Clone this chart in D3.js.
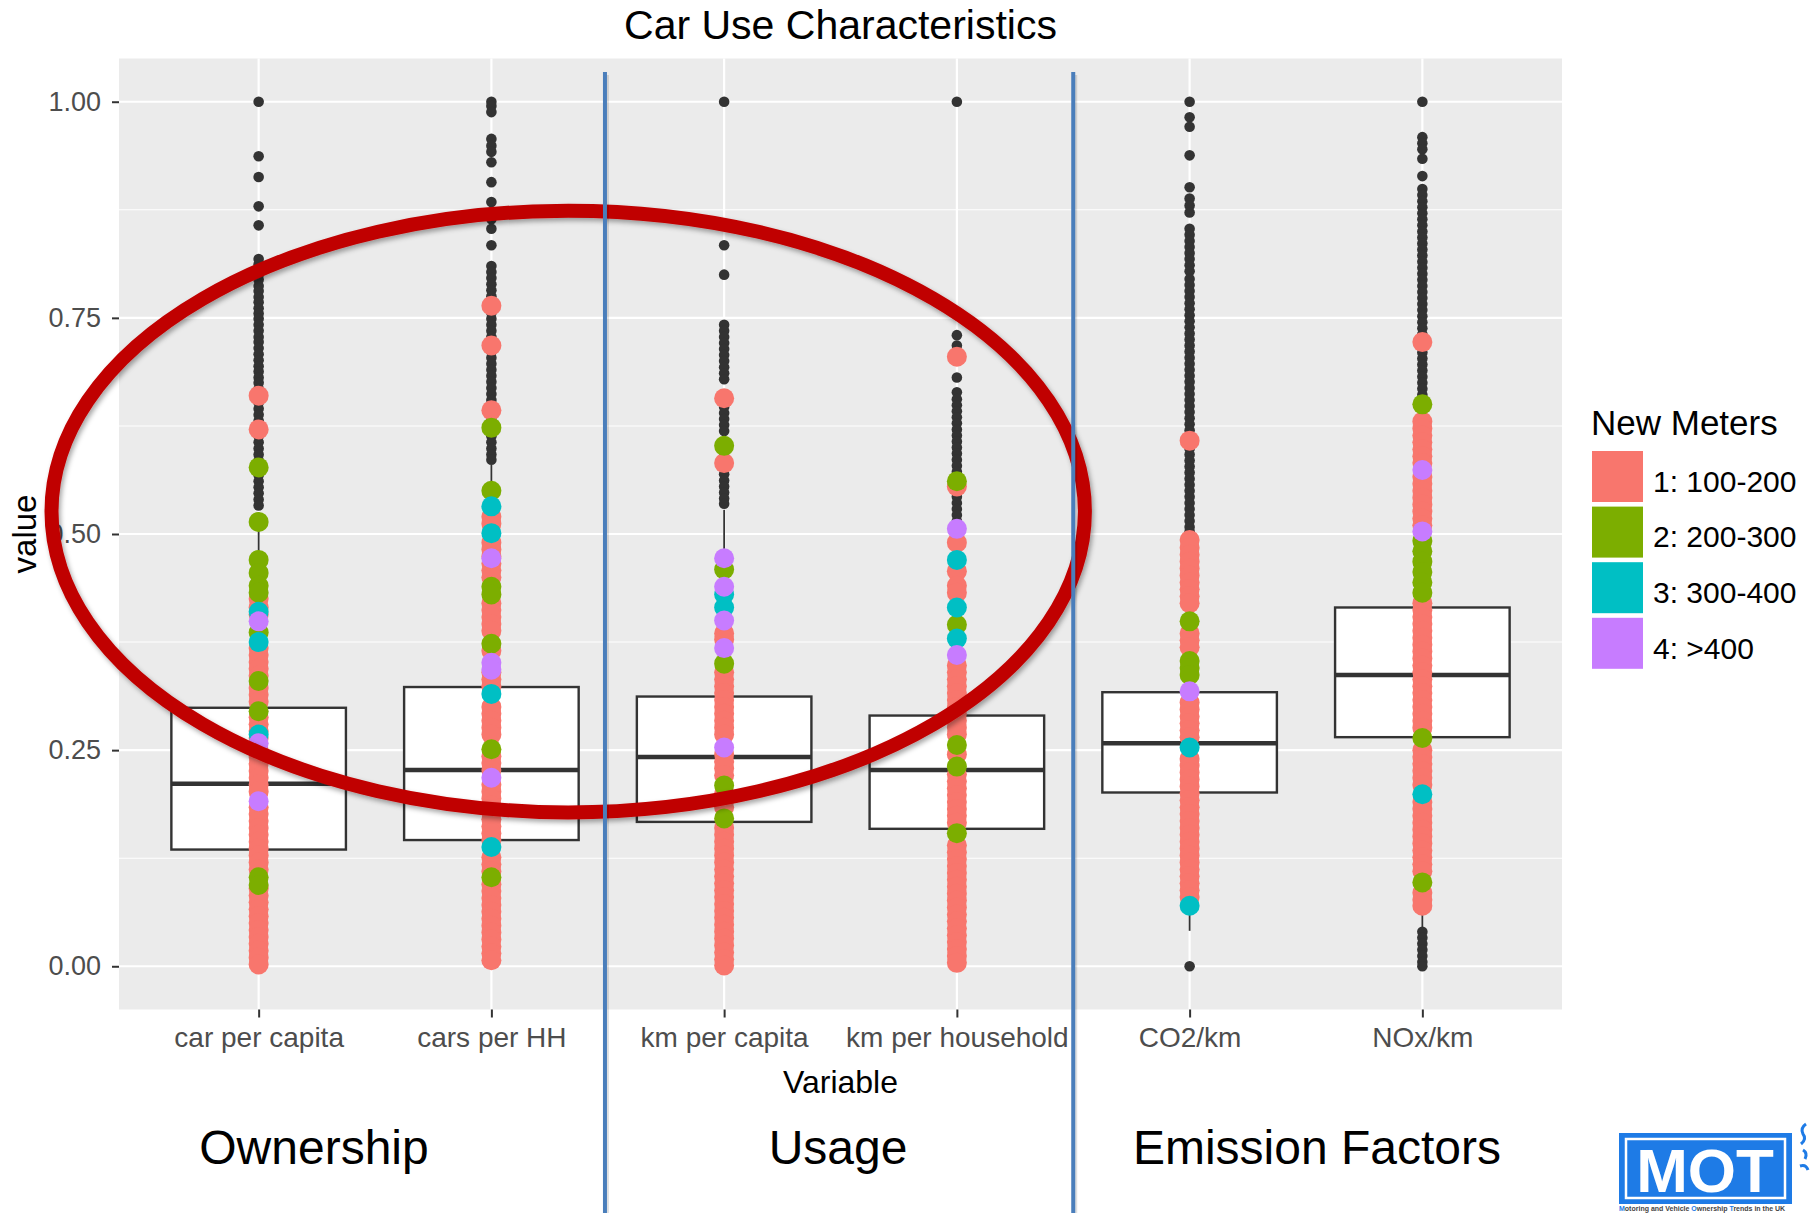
<!DOCTYPE html>
<html>
<head>
<meta charset="utf-8">
<script src="https://cdn.jsdelivr.net/npm/d3@7"></script>
<style>
  html, body { margin: 0; padding: 0; background: #fff; }
  svg { display: block; font-family: "Liberation Sans", Arial, sans-serif; }
</style>
</head>
<body>
<svg id="chart" width="1812" height="1213"></svg>
<script>
// ---- data -------------------------------------------------------------
const categories = ["car per capita", "cars per HH", "km per capita", "km per household", "CO2/km", "NOx/km"];
const yTicks = [0, 0.25, 0.5, 0.75, 1];
const yMinor = [0.125, 0.375, 0.625, 0.875];

// box statistics per variable
const q1 = [0.135, 0.146, 0.167, 0.159, 0.201, 0.265];
const medians = [0.211, 0.227, 0.242, 0.227, 0.258, 0.337];
const q3 = [0.299, 0.323, 0.312, 0.290, 0.317, 0.415];
const whiskerLow = [0.000, 0.005, 0.000, 0.003, 0.041, 0.045];
const whiskerHigh = [0.525, 0.580, 0.528, 0.490, 0.492, 0.638];

// boxplot outliers per variable
const outliers = [
  [1.000, 0.937, 0.913, 0.879, 0.857, 0.818, 0.812, 0.806, 0.800, 0.794, 0.787, 0.781, 0.774, 0.768, 0.761,
   0.755, 0.749, 0.742, 0.735, 0.728, 0.722, 0.715, 0.708, 0.701, 0.694, 0.688, 0.681, 0.675, 0.668, 0.652,
   0.645, 0.638, 0.631, 0.613, 0.606, 0.599, 0.592, 0.585, 0.575, 0.568, 0.561, 0.554, 0.547, 0.540, 0.533],
  [1.000, 0.995, 0.988, 0.957, 0.949, 0.942, 0.930, 0.907, 0.884, 0.872, 0.864, 0.853, 0.834, 0.810, 0.803,
   0.796, 0.789, 0.782, 0.775, 0.768, 0.756, 0.749, 0.742, 0.735, 0.728, 0.711, 0.704, 0.697, 0.690, 0.683,
   0.676, 0.669, 0.662, 0.655, 0.648, 0.641, 0.634, 0.627, 0.620, 0.613, 0.606, 0.599, 0.592, 0.586],
  [1.000, 0.834, 0.800, 0.742, 0.735, 0.728, 0.721, 0.714, 0.707, 0.700, 0.693, 0.686, 0.679, 0.647, 0.640,
   0.633, 0.626, 0.619, 0.590, 0.583, 0.576, 0.569, 0.562, 0.555, 0.548, 0.541, 0.535],
  [1.000, 0.730, 0.718, 0.681, 0.664, 0.656, 0.649, 0.642, 0.635, 0.628, 0.621, 0.614, 0.607, 0.600, 0.593,
   0.586, 0.579, 0.572, 0.565, 0.550, 0.543, 0.536, 0.529, 0.522, 0.515],
  [1.000, 0.982, 0.971, 0.938, 0.901, 0.888, 0.880, 0.872, 0.853, 0.846, 0.839, 0.832, 0.825, 0.818, 0.811,
   0.804, 0.795, 0.788, 0.781, 0.774, 0.767, 0.760, 0.753, 0.746, 0.739, 0.732, 0.725, 0.718, 0.711, 0.704,
   0.697, 0.690, 0.683, 0.676, 0.669, 0.662, 0.655, 0.648, 0.641, 0.634, 0.627, 0.620, 0.613, 0.606, 0.599,
   0.592, 0.585, 0.578, 0.571, 0.564, 0.557, 0.550, 0.543, 0.536, 0.529, 0.522, 0.515, 0.508, 0.503, 0.000],
  [1.000, 0.959, 0.952, 0.945, 0.934, 0.914, 0.899, 0.892, 0.885, 0.878, 0.871, 0.864, 0.857, 0.850, 0.843,
   0.836, 0.829, 0.822, 0.815, 0.808, 0.801, 0.794, 0.787, 0.780, 0.773, 0.766, 0.759, 0.752, 0.745, 0.738,
   0.731, 0.724, 0.717, 0.710, 0.703, 0.696, 0.689, 0.682, 0.675, 0.668, 0.661, 0.656,
   0.040, 0.033, 0.026, 0.019, 0.012, 0.005, 0.000]
];

// observations coloured by number of new meters (one list per variable)
const meter1 = [
  [0.660, 0.621, 0.425, 0.415, 0.407, 0.368, 0.360, 0.352, 0.344, 0.336, 0.322, 0.314, 0.306, 0.288, 0.280,
   0.272, 0.264, 0.250, 0.242, 0.234, 0.226, 0.218, 0.210, 0.202, 0.184, 0.176, 0.168, 0.160, 0.152, 0.144,
   0.136, 0.128, 0.120, 0.112, 0.090, 0.082, 0.074, 0.066, 0.058, 0.050, 0.042, 0.034, 0.026, 0.018, 0.010, 0.002],
  [0.764, 0.718, 0.643, 0.520, 0.512, 0.490, 0.482, 0.474, 0.466, 0.458, 0.450, 0.420, 0.412, 0.404, 0.396,
   0.388, 0.365, 0.340, 0.332, 0.324, 0.300, 0.292, 0.284, 0.276, 0.268, 0.243, 0.235, 0.227, 0.210, 0.202,
   0.194, 0.186, 0.178, 0.170, 0.162, 0.154, 0.146, 0.126, 0.118, 0.110, 0.095, 0.087, 0.079, 0.071, 0.063,
   0.055, 0.047, 0.039, 0.031, 0.023, 0.015, 0.007],
  [0.657, 0.582, 0.385, 0.378, 0.340, 0.332, 0.324, 0.316, 0.308, 0.300, 0.292, 0.284, 0.276, 0.268, 0.245,
   0.237, 0.229, 0.221, 0.200, 0.192, 0.184, 0.160, 0.152, 0.144, 0.136, 0.128, 0.120, 0.112, 0.104, 0.096,
   0.088, 0.080, 0.072, 0.064, 0.056, 0.048, 0.040, 0.032, 0.024, 0.016, 0.008, 0.001],
  [0.705, 0.555, 0.490, 0.457, 0.440, 0.432, 0.348, 0.340, 0.332, 0.324, 0.316, 0.308, 0.300, 0.292, 0.284,
   0.276, 0.268, 0.245, 0.222, 0.214, 0.206, 0.198, 0.190, 0.182, 0.174, 0.166, 0.140, 0.132, 0.124, 0.116,
   0.108, 0.100, 0.092, 0.084, 0.076, 0.068, 0.060, 0.052, 0.044, 0.036, 0.028, 0.020, 0.012, 0.004],
  [0.608, 0.493, 0.484, 0.476, 0.468, 0.460, 0.452, 0.444, 0.436, 0.428, 0.420, 0.385, 0.377, 0.369, 0.305,
   0.297, 0.289, 0.281, 0.273, 0.265, 0.240, 0.232, 0.224, 0.216, 0.208, 0.200, 0.192, 0.184, 0.176, 0.168,
   0.160, 0.152, 0.144, 0.136, 0.128, 0.120, 0.112, 0.104, 0.096, 0.088, 0.080],
  [0.722, 0.630, 0.622, 0.614, 0.606, 0.598, 0.590, 0.582, 0.566, 0.558, 0.550, 0.542, 0.534, 0.526, 0.518,
   0.510, 0.420, 0.412, 0.404, 0.396, 0.388, 0.380, 0.372, 0.364, 0.356, 0.348, 0.340, 0.332, 0.324, 0.316,
   0.308, 0.300, 0.292, 0.284, 0.276, 0.250, 0.242, 0.234, 0.226, 0.218, 0.210, 0.190, 0.182, 0.174, 0.166,
   0.158, 0.150, 0.142, 0.134, 0.126, 0.118, 0.110, 0.085, 0.077, 0.070]
];
const meter2 = [
  [0.577, 0.514, 0.470, 0.455, 0.440, 0.432, 0.386, 0.330, 0.295, 0.103, 0.094],
  [0.623, 0.550, 0.439, 0.430, 0.373, 0.251, 0.103],
  [0.602, 0.459, 0.350, 0.209, 0.171],
  [0.561, 0.395, 0.256, 0.231, 0.154],
  [0.399, 0.353, 0.345, 0.337],
  [0.650, 0.492, 0.480, 0.468, 0.456, 0.444, 0.432, 0.264, 0.097]
];
const meter3 = [
  [0.410, 0.375, 0.268],
  [0.532, 0.501, 0.315, 0.138],
  [0.430, 0.415],
  [0.470, 0.415, 0.379],
  [0.253, 0.070],
  [0.199]
];
const meter4 = [
  [0.399, 0.258, 0.191],
  [0.472, 0.351, 0.343, 0.218],
  [0.472, 0.439, 0.400, 0.368, 0.253],
  [0.506, 0.360],
  [0.318],
  [0.574, 0.503]
];
const meterLabels = ["1: 100-200", "2: 200-300", "3: 300-400", "4: >400"];
const meterColors = ["#F8766D", "#7CAE00", "#00BFC4", "#C77CFF"];
const meterSeries = [meter1, meter2, meter3, meter4];

const groupNames = ["Ownership", "Usage", "Emission Factors"];

// ---- layout -----------------------------------------------------------
const svg = d3.select("#chart");
const panel = { left: 119, right: 1562, top: 58.5, bottom: 1009.5 };

const x = d3.scalePoint().domain(categories).range([panel.left, panel.right]).padding(0.6);
const y = d3.scaleLinear().domain([-0.05, 1.05]).range([panel.bottom, panel.top]);
const step = x.step();

const defs = svg.append("defs");
const shadow = defs.append("filter").attr("id", "shadow")
  .attr("x", "-10%").attr("y", "-10%").attr("width", "120%").attr("height", "120%");
shadow.append("feDropShadow").attr("dx", 2).attr("dy", 3).attr("stdDeviation", 2.5)
  .attr("flood-color", "#000").attr("flood-opacity", 0.35);

svg.append("rect").attr("width", 1812).attr("height", 1213).attr("fill", "#fff");

// panel background and grid
svg.append("rect")
  .attr("x", panel.left).attr("y", panel.top)
  .attr("width", panel.right - panel.left).attr("height", panel.bottom - panel.top)
  .attr("fill", "#EBEBEB");

svg.append("g").selectAll("line").data(yMinor).join("line")
  .attr("x1", panel.left).attr("x2", panel.right)
  .attr("y1", d => y(d)).attr("y2", d => y(d))
  .attr("stroke", "#fff").attr("stroke-width", 1.1);
svg.append("g").selectAll("line").data(yTicks).join("line")
  .attr("x1", panel.left).attr("x2", panel.right)
  .attr("y1", d => y(d)).attr("y2", d => y(d))
  .attr("stroke", "#fff").attr("stroke-width", 2.2);
svg.append("g").selectAll("line").data(categories).join("line")
  .attr("x1", d => x(d)).attr("x2", d => x(d))
  .attr("y1", panel.top).attr("y2", panel.bottom)
  .attr("stroke", "#fff").attr("stroke-width", 2.2);

// boxplots
const boxW = step * 0.75;
const boxes = svg.append("g");
categories.forEach((c, i) => {
  const cx = x(c);
  const g = boxes.append("g");
  g.append("line").attr("x1", cx).attr("x2", cx)
    .attr("y1", y(q3[i])).attr("y2", y(whiskerHigh[i]))
    .attr("stroke", "#333").attr("stroke-width", 1.8);
  g.append("line").attr("x1", cx).attr("x2", cx)
    .attr("y1", y(q1[i])).attr("y2", y(whiskerLow[i]))
    .attr("stroke", "#333").attr("stroke-width", 1.8);
  g.append("rect")
    .attr("x", cx - boxW / 2).attr("width", boxW)
    .attr("y", y(q3[i])).attr("height", y(q1[i]) - y(q3[i]))
    .attr("fill", "#fff").attr("stroke", "#333").attr("stroke-width", 2.4);
  g.append("line")
    .attr("x1", cx - boxW / 2).attr("x2", cx + boxW / 2)
    .attr("y1", y(medians[i])).attr("y2", y(medians[i]))
    .attr("stroke", "#333").attr("stroke-width", 4.5);
  g.selectAll("circle").data(outliers[i]).join("circle")
    .attr("cx", cx).attr("cy", d => y(d)).attr("r", 5.3)
    .attr("fill", "#333");
});

// coloured observations
const pts = svg.append("g");
meterSeries.forEach((series, k) => {
  categories.forEach((c, i) => {
    pts.append("g").selectAll("circle").data(series[i]).join("circle")
      .attr("cx", x(c)).attr("cy", d => y(d)).attr("r", 10)
      .attr("fill", meterColors[k]);
  });
});

// axes
const yAxis = svg.append("g")
  .attr("transform", `translate(${panel.left},0)`)
  .call(d3.axisLeft(y).tickValues(yTicks).tickFormat(d3.format(".2f")).tickSize(7).tickPadding(11));
yAxis.select(".domain").remove();
yAxis.selectAll(".tick line").attr("stroke", "#333").attr("stroke-width", 2);
yAxis.selectAll(".tick text").attr("fill", "#4D4D4D").attr("font-size", 27)
  .attr("font-family", "Liberation Sans, Arial, sans-serif");

const xAxis = svg.append("g")
  .attr("transform", `translate(0,${panel.bottom})`)
  .call(d3.axisBottom(x).tickSize(8).tickPadding(10));
xAxis.select(".domain").remove();
xAxis.selectAll(".tick line").attr("stroke", "#333").attr("stroke-width", 2);
xAxis.selectAll(".tick text").attr("fill", "#4D4D4D").attr("font-size", 28)
  .attr("font-family", "Liberation Sans, Arial, sans-serif");

// titles
svg.append("text")
  .attr("x", (panel.left + panel.right) / 2).attr("y", 39)
  .attr("text-anchor", "middle").attr("font-size", 41).attr("fill", "#000")
  .text("Car Use Characteristics");
svg.append("text")
  .attr("x", (panel.left + panel.right) / 2).attr("y", 1093)
  .attr("text-anchor", "middle").attr("font-size", 32).attr("fill", "#000")
  .text("Variable");
svg.append("text")
  .attr("transform", `translate(36,${(panel.top + panel.bottom) / 2}) rotate(-90)`)
  .attr("text-anchor", "middle").attr("font-size", 33).attr("fill", "#000")
  .text("value");

// legend
const legend = svg.append("g").attr("transform", "translate(1591,0)");
legend.append("text").attr("x", 0).attr("y", 435)
  .attr("font-size", 35).attr("fill", "#000").text("New Meters");
meterLabels.forEach((lab, k) => {
  legend.append("rect")
    .attr("x", 1).attr("y", 451 + k * 55.6).attr("width", 51).attr("height", 51)
    .attr("fill", meterColors[k]);
  legend.append("text")
    .attr("x", 62).attr("y", 491.7 + k * 55.6)
    .attr("font-size", 30).attr("fill", "#000").text(lab);
});

// group annotations: red ellipse and blue separators
const ex1 = x(categories[0]) - 0.89 * step;
const ex2 = x(categories[3]) + 0.55 * step;
const ey1 = y(0.874), ey2 = y(0.178);
svg.append("ellipse")
  .attr("cx", (ex1 + ex2) / 2).attr("cy", (ey1 + ey2) / 2)
  .attr("rx", (ex2 - ex1) / 2).attr("ry", (ey2 - ey1) / 2)
  .attr("fill", "none").attr("stroke", "#C00000").attr("stroke-width", 14)
  .attr("filter", "url(#shadow)");

const separators = [x(categories[1]) + 0.488 * step, x(categories[3]) + 0.5 * step];
const sepG = svg.append("g");
sepG.selectAll("line.shade").data(separators).join("line").attr("class", "shade")
  .attr("x1", d => d + 2.5).attr("x2", d => d + 2.5)
  .attr("y1", 75).attr("y2", 1213)
  .attr("stroke", "#000").attr("stroke-opacity", 0.12).attr("stroke-width", 3);
sepG.selectAll("line.sep").data(separators).join("line").attr("class", "sep")
  .attr("x1", d => d).attr("x2", d => d)
  .attr("y1", 72).attr("y2", 1213)
  .attr("stroke", "#4A7EBB").attr("stroke-width", 4);

const groupX = [314, 838, 1317];
svg.append("g").selectAll("text").data(groupNames).join("text")
  .attr("x", (d, i) => groupX[i]).attr("y", 1164)
  .attr("text-anchor", "middle").attr("font-size", 48).attr("fill", "#000")
  .text(d => d);

// MOT logo
const logo = svg.append("g");
logo.append("rect").attr("x", 1619).attr("y", 1133).attr("width", 173).attr("height", 71).attr("fill", "#1E7BE6");
logo.append("rect").attr("x", 1626).attr("y", 1139).attr("width", 159).attr("height", 59)
  .attr("fill", "none").attr("stroke", "#fff").attr("stroke-width", 2.5);
logo.append("text").attr("x", 1705).attr("y", 1192).attr("text-anchor", "middle")
  .attr("font-size", 62).attr("font-weight", "bold").attr("fill", "#fff").text("MOT");
logo.append("path")
  .attr("d", "M1806,1124 q-6,4 -3,10 q4,5 -2,10 M1803,1150 q5,3 2,9 M1800,1166 q6,-2 8,4")
  .attr("fill", "none").attr("stroke", "#1E7BE6").attr("stroke-width", 3);
const caption = logo.append("text").attr("x", 1619).attr("y", 1211)
  .attr("font-size", 7).attr("font-weight", "bold").attr("fill", "#444");
[["M", true], ["otoring and Vehicle ", false], ["O", true], ["wnership ", false], ["T", true], ["rends in the UK", false]]
  .forEach(([t, blue]) => caption.append("tspan").attr("fill", blue ? "#1E7BE6" : "#444").text(t));
</script>
</body>
</html>
